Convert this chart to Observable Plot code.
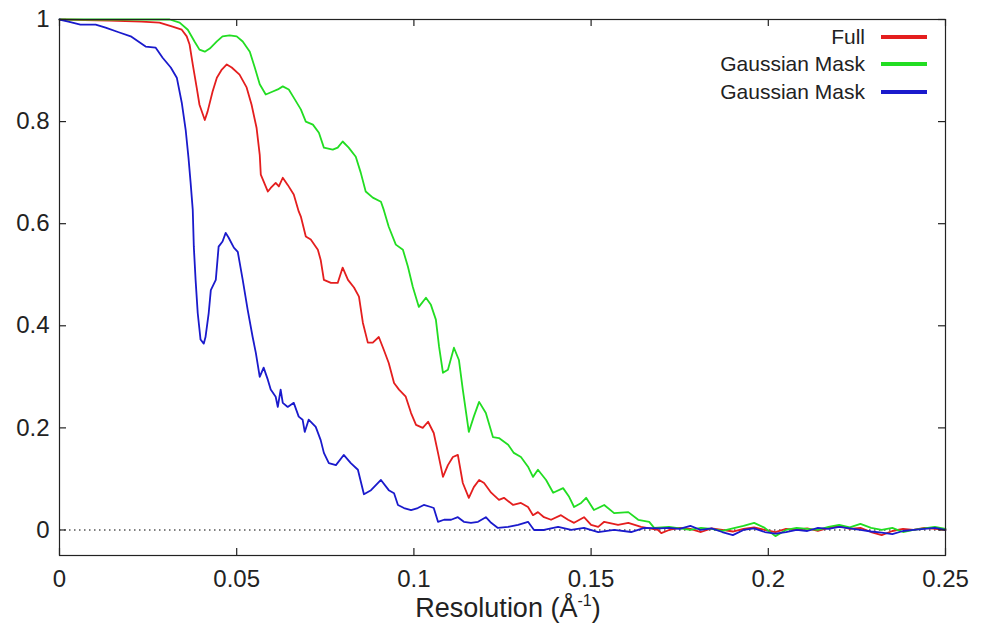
<!DOCTYPE html>
<html>
<head>
<meta charset="utf-8">
<script src="https://cdn.jsdelivr.net/npm/d3@7"></script>
<script src="https://cdn.jsdelivr.net/npm/@observablehq/plot@0.6"></script>
<style>
  html, body { margin: 0; padding: 0; background: #fff; }
  #wrap { position: relative; width: 985px; height: 628px; font-family: "Liberation Sans", Arial, Helvetica, sans-serif; color: #222; }
  #legend { position: absolute; left: 0; top: 0; }
  .lrow { position: absolute; height: 28px; }
  .lrow .lab { position: absolute; right: 0; top: 0; font-size: 21px; line-height: 28px; white-space: nowrap; }
  .lrow .sw { position: absolute; height: 4px; }
  #xtitle { position: absolute; left: 358px; width: 300px; top: 595px; text-align: center; font-size: 27px; line-height: 27px; white-space: nowrap; }
  #xtitle .sup { font-size: 16px; position: relative; top: -11px; }
</style>
</head>
<body>
<div id="wrap">
  <div id="chart"></div>
  <div id="legend"></div>
  <div id="xtitle">Resolution (Å<span class="sup">-1</span>)</div>
</div>
<script>
// ---- Data ----
const seriesNames = ["Full", "Gaussian Mask", "Gaussian Mask"];
const seriesColors = ["#e41e1e", "#22dd22", "#1a1acc"];

const xTicks = [0, 0.05, 0.1, 0.15, 0.2, 0.25];
const xTickLabels = ["0", "0.05", "0.1", "0.15", "0.2", "0.25"];
const yTicks = [0, 0.2, 0.4, 0.6, 0.8, 1];
const yTickLabels = ["0", "0.2", "0.4", "0.6", "0.8", "1"];

// Full (red)
const fullX = [0, 0.0141, 0.0232, 0.0282, 0.0319, 0.0345, 0.0359, 0.0367, 0.0376, 0.0387, 0.0395, 0.0410, 0.0418, 0.0432, 0.0444, 0.0458, 0.0472, 0.0486, 0.0508, 0.0528, 0.0542, 0.0556, 0.0565, 0.0568, 0.0588, 0.0596, 0.0610, 0.0619, 0.0630, 0.0644, 0.0661, 0.0675, 0.0681, 0.0695, 0.0709, 0.0729, 0.0737, 0.0746, 0.0766, 0.0785, 0.0799, 0.0814, 0.0831, 0.0845, 0.0856, 0.0870, 0.0884, 0.0901, 0.0915, 0.0929, 0.0944, 0.0958, 0.0977, 0.0992, 0.1006, 0.1025, 0.1040, 0.1056, 0.1068, 0.1082, 0.1096, 0.1110, 0.1124, 0.1138, 0.1155, 0.1169, 0.1184, 0.1198, 0.1218, 0.1240, 0.1254, 0.1280, 0.1302, 0.1322, 0.1336, 0.1350, 0.1367, 0.1387, 0.1415, 0.1435, 0.1452, 0.1480, 0.1500, 0.1520, 0.1537, 0.1576, 0.1605, 0.1641, 0.1689, 0.1698];
const fullY = [1.0, 0.998, 0.996, 0.994, 0.986, 0.98, 0.967, 0.951, 0.912, 0.867, 0.833, 0.803, 0.82, 0.859, 0.886, 0.902, 0.912, 0.906, 0.892, 0.867, 0.833, 0.788, 0.735, 0.696, 0.663, 0.67, 0.68, 0.673, 0.69, 0.676, 0.657, 0.624, 0.614, 0.575, 0.569, 0.549, 0.529, 0.49, 0.484, 0.484, 0.514, 0.49, 0.475, 0.457, 0.406, 0.367, 0.367, 0.378, 0.353, 0.327, 0.288, 0.275, 0.261, 0.229, 0.206, 0.2, 0.212, 0.19, 0.151, 0.104, 0.127, 0.143, 0.147, 0.092, 0.063, 0.084, 0.098, 0.092, 0.073, 0.059, 0.063, 0.049, 0.053, 0.045, 0.029, 0.035, 0.025, 0.02, 0.029, 0.02, 0.014, 0.025, 0.01, 0.006, 0.016, 0.01, 0.014, 0.006, 0.0, -0.006];

// Gaussian Mask (green)
const greenX = [0, 0.0311, 0.0339, 0.0362, 0.0381, 0.0395, 0.0410, 0.0424, 0.0444, 0.0460, 0.0480, 0.0500, 0.0517, 0.0537, 0.0551, 0.0565, 0.0582, 0.0602, 0.0616, 0.0630, 0.0647, 0.0661, 0.0681, 0.0695, 0.0715, 0.0732, 0.0746, 0.0771, 0.0785, 0.0799, 0.0816, 0.0836, 0.0850, 0.0864, 0.0884, 0.0907, 0.0915, 0.0929, 0.0949, 0.0969, 0.0983, 0.0997, 0.1014, 0.1034, 0.1048, 0.1062, 0.1071, 0.1082, 0.1096, 0.1113, 0.1127, 0.1138, 0.1155, 0.1169, 0.1184, 0.1203, 0.1223, 0.1240, 0.1266, 0.1282, 0.1302, 0.1322, 0.1336, 0.1350, 0.1373, 0.1393, 0.1421, 0.1438, 0.1452, 0.1472, 0.1486, 0.1508, 0.1537, 0.1565, 0.1605, 0.1633, 0.1664, 0.1678];
const greenY = [1.0, 1.0, 0.994, 0.98, 0.957, 0.941, 0.937, 0.943, 0.957, 0.967, 0.969, 0.967, 0.957, 0.937, 0.906, 0.873, 0.853, 0.859, 0.863, 0.869, 0.863, 0.847, 0.824, 0.80, 0.794, 0.778, 0.749, 0.745, 0.749, 0.761, 0.749, 0.731, 0.70, 0.663, 0.651, 0.643, 0.627, 0.594, 0.559, 0.549, 0.516, 0.476, 0.437, 0.455, 0.441, 0.412, 0.359, 0.308, 0.314, 0.357, 0.333, 0.275, 0.192, 0.222, 0.251, 0.229, 0.182, 0.18, 0.167, 0.151, 0.143, 0.124, 0.104, 0.118, 0.098, 0.073, 0.082, 0.065, 0.045, 0.053, 0.063, 0.039, 0.049, 0.033, 0.035, 0.02, 0.016, 0.004];

// Gaussian Mask (blue)
const blueX = [0, 0.0025, 0.0059, 0.0102, 0.0130, 0.0167, 0.0201, 0.0243, 0.0271, 0.0291, 0.0314, 0.0331, 0.0345, 0.0356, 0.0364, 0.0370, 0.0376, 0.0379, 0.0384, 0.0390, 0.0398, 0.0407, 0.0412, 0.0421, 0.0427, 0.0441, 0.0449, 0.0460, 0.0469, 0.0477, 0.0492, 0.0503, 0.0517, 0.0531, 0.0545, 0.0554, 0.0565, 0.0576, 0.0588, 0.0596, 0.0610, 0.0616, 0.0624, 0.0630, 0.0644, 0.0661, 0.0675, 0.0686, 0.0692, 0.0703, 0.0723, 0.0737, 0.0746, 0.0760, 0.0780, 0.0802, 0.0822, 0.0842, 0.0859, 0.0879, 0.0907, 0.0929, 0.0944, 0.0955, 0.0972, 0.0992, 0.1011, 0.1028, 0.1048, 0.1056, 0.1068, 0.1085, 0.1105, 0.1124, 0.1141, 0.1161, 0.1181, 0.1203, 0.1218, 0.1237, 0.1266, 0.1294, 0.1322, 0.1339, 0.1367, 0.1407, 0.1444, 0.1480, 0.1520, 0.1565, 0.1613, 0.1650, 0.1692];
const blueY = [1.0, 0.996, 0.99, 0.99, 0.984, 0.975, 0.967, 0.947, 0.945, 0.925, 0.906, 0.886, 0.837, 0.784, 0.729, 0.68, 0.627, 0.555, 0.49, 0.425, 0.373, 0.365, 0.378, 0.425, 0.47, 0.49, 0.555, 0.565, 0.582, 0.573, 0.553, 0.545, 0.49, 0.431, 0.378, 0.347, 0.30, 0.318, 0.294, 0.275, 0.261, 0.241, 0.275, 0.249, 0.241, 0.249, 0.222, 0.216, 0.192, 0.216, 0.202, 0.176, 0.151, 0.131, 0.127, 0.147, 0.131, 0.118, 0.07, 0.078, 0.098, 0.078, 0.072, 0.049, 0.043, 0.039, 0.043, 0.049, 0.045, 0.043, 0.016, 0.02, 0.02, 0.025, 0.016, 0.014, 0.016, 0.025, 0.014, 0.004, 0.006, 0.01, 0.016, 0.0, 0.0, 0.006, 0.0, 0.004, -0.004, 0.0, -0.004, 0.004, 0.003];

// Noisy tails near zero (0.172 .. 0.25)
const tailX = [0.172, 0.175, 0.178, 0.181, 0.184, 0.187, 0.190, 0.193, 0.196, 0.199, 0.202, 0.205, 0.208, 0.211, 0.214, 0.217, 0.220, 0.223, 0.226, 0.229, 0.232, 0.235, 0.238, 0.241, 0.244, 0.247, 0.250];
const fullTail = [0.0, 0.004, 0.002, -0.004, 0.003, 0.0, -0.003, 0.002, 0.005, 0.0, -0.004, 0.002, 0.0, 0.003, -0.002, 0.004, 0.008, 0.002, 0.004, -0.004, -0.01, -0.002, 0.002, 0.0, 0.004, 0.002, 0.0];
const greenTail = [0.006, 0.003, 0.0, 0.004, 0.002, -0.002, 0.003, 0.008, 0.014, 0.004, -0.012, 0.0, 0.004, 0.002, 0.0, 0.006, 0.01, 0.005, 0.012, 0.004, 0.0, 0.004, -0.004, 0.0, 0.003, 0.006, 0.002];
const blueTail = [0.004, 0.002, 0.008, 0.0, 0.003, -0.004, -0.01, 0.0, 0.003, -0.004, -0.007, -0.004, 0.0, -0.002, 0.004, 0.002, 0.006, 0.003, 0.0, -0.003, -0.005, -0.008, -0.002, 0.0, 0.002, 0.004, 0.0];

// ---- Build table ----
function build(xs, ys, tx, ty, s) {
  const rows = xs.map((x, i) => ({x, y: ys[i], s}));
  tx.forEach((x, i) => rows.push({x, y: ty[i], s}));
  return rows;
}
const series = [
  build(fullX, fullY, tailX, fullTail, 0),
  build(greenX, greenY, tailX, greenTail, 1),
  build(blueX, blueY, tailX, blueTail, 2)
];

const W = 985, H = 628;
const mL = 59, mR = 40, mT = 19, mB = 73;
const plotW = W - mL - mR, plotH = H - mT - mB;
const tickLen = 7;
const axisColor = "#222";

const chart = Plot.plot({
  width: W,
  height: H,
  marginLeft: mL, marginRight: mR, marginTop: mT, marginBottom: mB,
  style: {fontFamily: '"Liberation Sans", Arial, Helvetica, sans-serif', fontSize: "24px", color: axisColor, background: "#fff"},
  x: {domain: [0, 0.25]},
  y: {domain: [-0.05, 1]},
  marks: [
    Plot.ruleY([0], {stroke: "#555", strokeWidth: 1.3, strokeDasharray: "1.5,3.5"}),
    ...series.map((rows, k) => Plot.line(rows, {x: "x", y: "y", stroke: seriesColors[k], strokeWidth: 1.8, curve: "linear"})),
    Plot.frame({stroke: axisColor, strokeWidth: 1.2}),
    Plot.ruleX(xTicks, {x: d => d, insetTop: plotH - tickLen, stroke: axisColor, strokeWidth: 1.2}),
    Plot.ruleX(xTicks, {x: d => d, insetBottom: plotH - tickLen, stroke: axisColor, strokeWidth: 1.2}),
    Plot.ruleY(yTicks, {y: d => d, insetRight: plotW - tickLen, stroke: axisColor, strokeWidth: 1.2}),
    Plot.ruleY(yTicks, {y: d => d, insetLeft: plotW - tickLen, stroke: axisColor, strokeWidth: 1.2}),
    Plot.axisX(xTicks, {tickSize: 0, tickPadding: 14, fontSize: 24, tickFormat: (d, i) => xTickLabels[i], label: null}),
    Plot.axisY(yTicks, {tickSize: 0, tickPadding: 10, fontSize: 24, tickFormat: (d, i) => yTickLabels[i], label: null})
  ]
});
document.getElementById("chart").appendChild(chart);

// ---- Legend (inside plot, top right) ----
const legend = document.getElementById("legend");
const rowCenters = [37, 64, 92];
seriesNames.forEach((name, i) => {
  const row = document.createElement("div");
  row.className = "lrow";
  row.style.left = "0px";
  row.style.width = "865px";
  row.style.top = (rowCenters[i] - 14) + "px";
  const lab = document.createElement("span");
  lab.className = "lab";
  lab.textContent = name;
  row.appendChild(lab);
  const sw = document.createElement("div");
  sw.className = "sw";
  sw.style.left = "881px";
  sw.style.width = "46px";
  sw.style.top = "12px";
  sw.style.background = seriesColors[i];
  row.appendChild(sw);
  legend.appendChild(row);
});
</script>
</body>
</html>
